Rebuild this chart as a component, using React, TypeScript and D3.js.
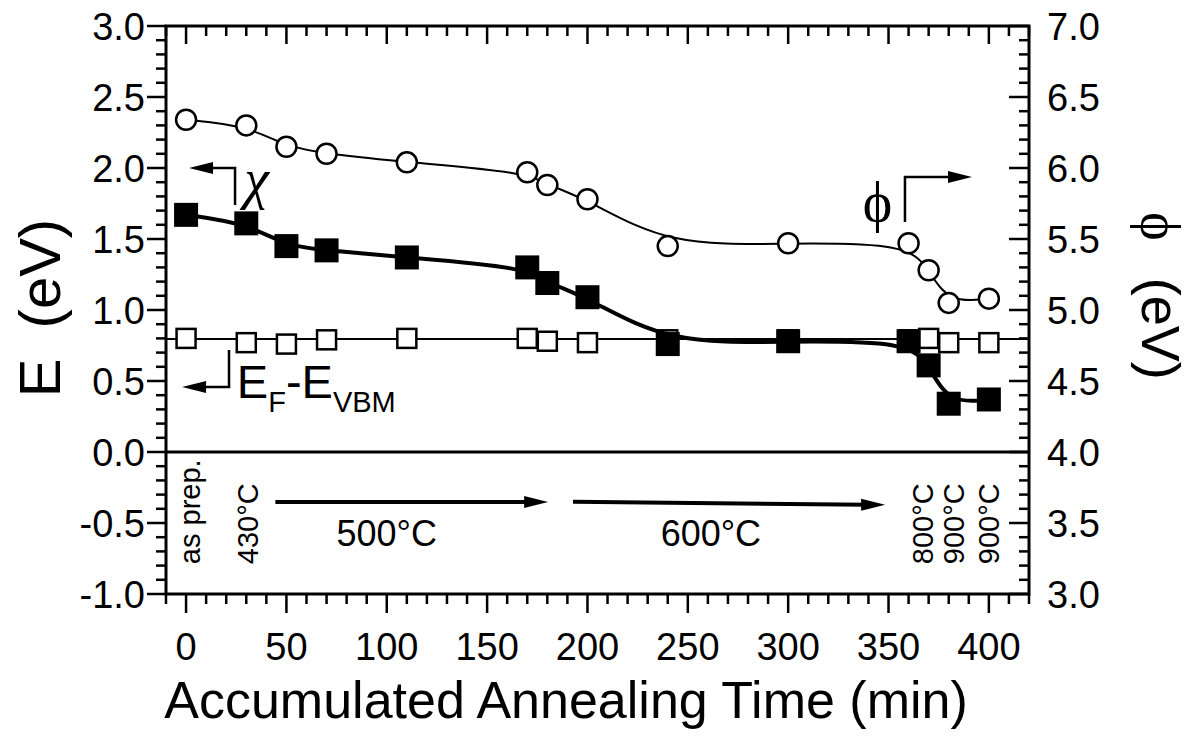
import * as d3 from "d3";

// accumulated annealing time (min)
const times = [0, 30, 50, 70, 110, 170, 180, 200, 240, 300, 360, 370, 380, 400];
// work function phi (right axis, eV)
const phiValues = [6.34, 6.3, 6.15, 6.1, 6.04, 5.97, 5.88, 5.78, 5.45, 5.47, 5.47, 5.28, 5.05, 5.08];
// electron affinity chi (left axis, eV)
const chiValues = [1.67, 1.61, 1.45, 1.42, 1.37, 1.3, 1.19, 1.09, 0.76, 0.78, 0.78, 0.61, 0.34, 0.37];
// EF - EVBM (left axis, eV)
const efValues = [0.8, 0.77, 0.76, 0.79, 0.8, 0.8, 0.78, 0.77, 0.79, 0.79, 0.79, 0.8, 0.77, 0.77];
const efLevel = 0.795;

const xTicks = [0, 50, 100, 150, 200, 250, 300, 350, 400];
const xTickLabels = ["0", "50", "100", "150", "200", "250", "300", "350", "400"];
const leftTicks = [-1, -0.5, 0, 0.5, 1, 1.5, 2, 2.5, 3];
const leftTickLabels = ["-1.0", "-0.5", "0.0", "0.5", "1.0", "1.5", "2.0", "2.5", "3.0"];
const rightTicks = [3, 3.5, 4, 4.5, 5, 5.5, 6, 6.5, 7];
const rightTickLabels = ["3.0", "3.5", "4.0", "4.5", "5.0", "5.5", "6.0", "6.5", "7.0"];

// annealing steps (label, time position)
const stepLabels = [
  { text: "as prep.", t: 1.5 },
  { text: "430°C", t: 30.5 },
  { text: "800°C", t: 367 },
  { text: "900°C", t: 382.5 },
  { text: "900°C", t: 400 },
];
const stageArrows = [
  { from: [44.5, -0.352], to: [180.4, -0.352], label: "500°C", lt: 100 },
  { from: [192.8, -0.35], to: [348.3, -0.372], label: "600°C", lt: 261.5 },
];

const W = 1191;
const H = 740;
const font = "'Liberation Sans', Arial, sans-serif";
const serif = "'Liberation Serif', 'Times New Roman', serif";

const x = d3.scaleLinear().domain([-10, 420]).range([166, 1029]);
const yL = d3.scaleLinear().domain([-1, 3]).range([594, 26]);
const yR = d3.scaleLinear().domain([3, 7]).range([594, 26]);

const xMinor = d3.range(-10, 421, 10).filter((v) => v % 50 !== 0);
const yMinor = d3.range(-10, 31, 1).filter((v) => v % 5 !== 0).map((v) => v / 10);

const arrowHead = (tipX: number, tipY: number, dir: number, len = 24, half = 6) => {
  // dir: +1 right, -1 left
  return `${tipX},${tipY} ${tipX - dir * len},${tipY - half} ${tipX - dir * len},${tipY + half}`;
};

const App = () => {
  const phiPath = d3
    .line<number>()
    .x((d, i) => x(times[i]))
    .y((d) => yR(d))
    .curve(d3.curveBasis)(phiValues);
  const chiPath = d3
    .line<number>()
    .x((d, i) => x(times[i]))
    .y((d) => yL(d))
    .curve(d3.curveBasis)(chiValues);

  const x0 = x.range()[0];
  const x1 = x.range()[1];
  const yTop = yL.range()[1];
  const yBot = yL.range()[0];

  return (
    <div style={{ position: "absolute", left: 0, top: 0 }}>
      <svg width={W} height={H} style={{ display: "block", background: "#fff" }}>
        <rect width={W} height={H} fill="#fff" />

        {/* divider at 0 eV */}
        <line x1={x0} x2={x1} y1={yL(0)} y2={yL(0)} stroke="#000" strokeWidth={3} />

        {/* phi series */}
        <path d={phiPath || ""} fill="none" stroke="#000" strokeWidth={2} />
        {phiValues.map((v, i) => (
          <circle key={"c" + i} cx={x(times[i])} cy={yR(v)} r={10} fill="#fff" stroke="#000" strokeWidth={2.5} />
        ))}

        {/* EF - EVBM series */}
        <line x1={x0} x2={x1} y1={yL(efLevel)} y2={yL(efLevel)} stroke="#000" strokeWidth={2} />
        {efValues.map((v, i) => (
          <rect key={"o" + i} x={x(times[i]) - 9.5} y={yL(v) - 9.5} width={19} height={19} fill="#fff" stroke="#000" strokeWidth={2.5} />
        ))}

        {/* chi series */}
        <path d={chiPath || ""} fill="none" stroke="#000" strokeWidth={4} />
        {chiValues.map((v, i) => (
          <rect key={"f" + i} x={x(times[i]) - 12} y={yL(v) - 12} width={24} height={24} fill="#000" />
        ))}

        {/* chi annotation */}
        <polyline
          points={`${x(24.4)},${yL(1.74)} ${x(24.4)},${yL(2.0)} ${x(12)},${yL(2.0)}`}
          fill="none"
          stroke="#000"
          strokeWidth={2.5}
        />
        <polygon points={arrowHead(x(1.5), yL(2.0), -1)} fill="#000" />
        <text x={x(29)} y={yL(1.79)} fontFamily={serif} fontSize={56} fontStyle="italic">
          χ
        </text>

        {/* EF-EVBM annotation */}
        <polyline
          points={`${x(21.4)},${yL(0.718)} ${x(21.4)},${yL(0.458)} ${x(8)},${yL(0.458)}`}
          fill="none"
          stroke="#000"
          strokeWidth={2.5}
        />
        <polygon points={arrowHead(x(-2), yL(0.458), -1)} fill="#000" />
        <text x={x(25.3)} y={yL(0.38)} fontFamily={font} fontSize={47}>
          E<tspan fontSize={29} dy={14}>F</tspan>
          <tspan fontSize={47} dy={-14}>-E</tspan>
          <tspan fontSize={29} dy={14}>VBM</tspan>
        </text>

        {/* phi annotation */}
        <polyline
          points={`${x(358.2)},${yR(5.62)} ${x(358.2)},${yR(5.937)} ${x(380)},${yR(5.937)}`}
          fill="none"
          stroke="#000"
          strokeWidth={2.5}
        />
        <polygon points={arrowHead(x(391.6), yR(5.937), 1)} fill="#000" />
        <text x={x(344.5)} y={yR(5.63)} fontFamily={serif} fontSize={56} textAnchor="middle">
          ϕ
        </text>

        {/* annealing stage arrows */}
        {stageArrows.map((a, i) => {
          const fx = x(a.from[0]);
          const fy = yL(a.from[1]);
          const tx = x(a.to[0]);
          const ty = yL(a.to[1]);
          return (
            <g key={"a" + i}>
              <line x1={fx} y1={fy} x2={tx - 18} y2={ty} stroke="#000" strokeWidth={4} />
              <polygon points={arrowHead(tx, ty, 1)} fill="#000" />
              <text x={x(a.lt)} y={yL(-0.662)} fontFamily={font} fontSize={36} textAnchor="middle">
                {a.label}
              </text>
            </g>
          );
        })}
        {stepLabels.map((s, i) => (
          <text
            key={"s" + i}
            transform={`translate(${x(s.t)},${yL(-0.79)}) rotate(-90)`}
            dy="0.36em"
            fontFamily={font}
            fontSize={29}
          >
            {s.text}
          </text>
        ))}

        {/* frame */}
        <rect x={x0} y={yTop} width={x1 - x0} height={yBot - yTop} fill="none" stroke="#000" strokeWidth={3} />

        {/* bottom & top ticks */}
        {xTicks.map((t) => (
          <g key={"xt" + t}>
            <line x1={x(t)} x2={x(t)} y1={yBot} y2={yBot + 19} stroke="#000" strokeWidth={2.5} />
            <line x1={x(t)} x2={x(t)} y1={yTop} y2={yTop + 18} stroke="#000" strokeWidth={2.5} />
          </g>
        ))}
        {xMinor.map((t) => (
          <g key={"xm" + t}>
            <line x1={x(t)} x2={x(t)} y1={yBot} y2={yBot + 10} stroke="#000" strokeWidth={2.5} />
            <line x1={x(t)} x2={x(t)} y1={yTop} y2={yTop + 10} stroke="#000" strokeWidth={2.5} />
          </g>
        ))}
        {xTicks.map((t, i) => (
          <text key={"xl" + t} x={x(t)} y={660} fontFamily={font} fontSize={38} textAnchor="middle">
            {xTickLabels[i]}
          </text>
        ))}

        {/* left ticks (outward) */}
        {leftTicks.map((t, i) => (
          <g key={"lt" + t}>
            <line x1={x0 - 19} x2={x0} y1={yL(t)} y2={yL(t)} stroke="#000" strokeWidth={2.5} />
            <text x={x0 - 21} y={yL(t)} dy="0.36em" fontFamily={font} fontSize={38} textAnchor="end">
              {leftTickLabels[i]}
            </text>
          </g>
        ))}
        {yMinor.map((t) => (
          <line key={"lm" + t} x1={x0 - 10} x2={x0} y1={yL(t)} y2={yL(t)} stroke="#000" strokeWidth={2.5} />
        ))}

        {/* right ticks (inward) */}
        {rightTicks.map((t, i) => (
          <g key={"rt" + t}>
            <line x1={x1 - 20} x2={x1} y1={yR(t)} y2={yR(t)} stroke="#000" strokeWidth={2.5} />
            <text x={x1 + 18} y={yR(t)} dy="0.36em" fontFamily={font} fontSize={38}>
              {rightTickLabels[i]}
            </text>
          </g>
        ))}
        {yMinor.map((t) => (
          <line key={"rm" + t} x1={x1 - 10} x2={x1} y1={yR(t + 4)} y2={yR(t + 4)} stroke="#000" strokeWidth={2.5} />
        ))}

        {/* axis titles */}
        <text x={566} y={718} fontFamily={font} fontSize={52} textAnchor="middle">
          Accumulated Annealing Time (min)
        </text>
        <text transform={`translate(60,308) rotate(-90)`} fontFamily={font} fontSize={58} textAnchor="middle">
          E<tspan dx={14}> (eV)</tspan>
        </text>
        <text transform={`translate(1142,296) rotate(90)`} fontFamily={font} fontSize={54} textAnchor="middle">
          <tspan fontFamily={serif}>ϕ</tspan>
          <tspan dx={22}> (eV)</tspan>
        </text>
      </svg>
    </div>
  );
};

export default App;
